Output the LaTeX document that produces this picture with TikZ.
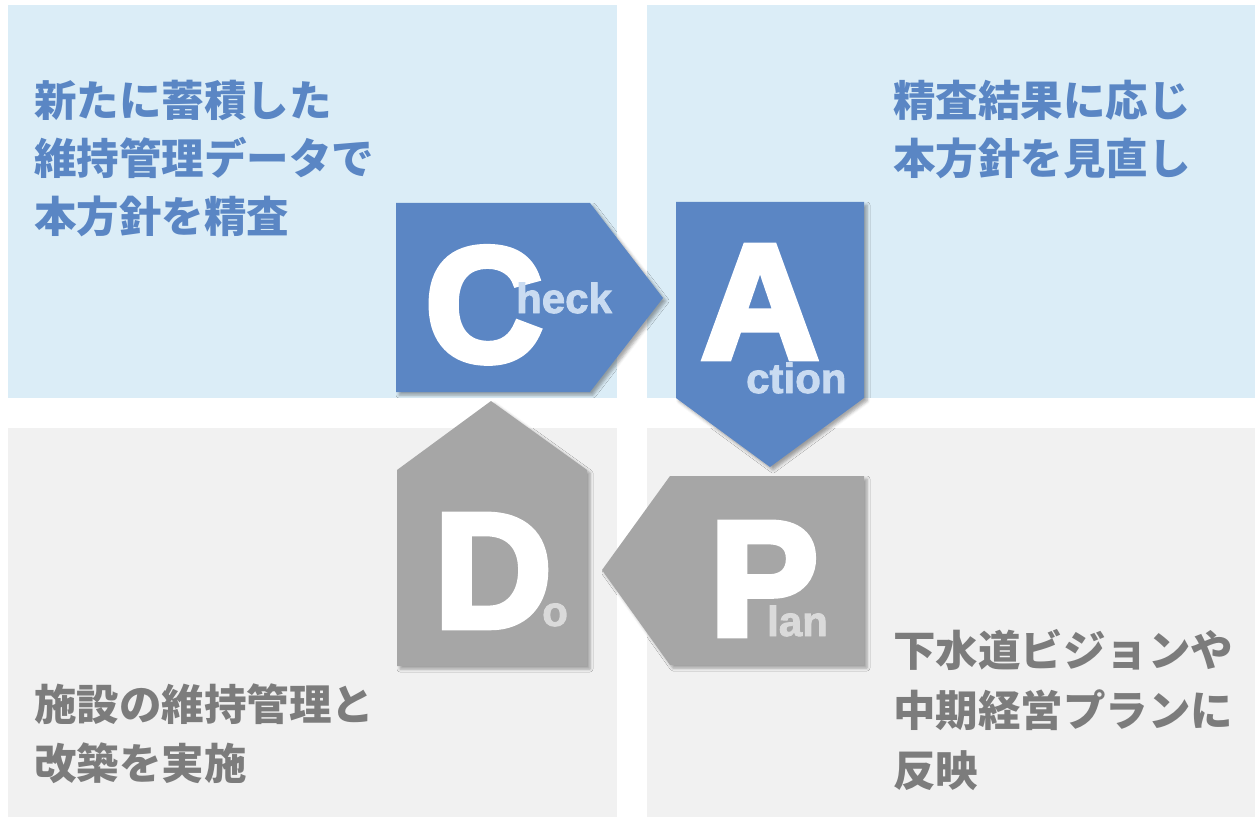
\documentclass[tikz,border=0pt]{standalone}
\usepackage{fontspec}
\setmainfont{Liberation Sans}
\newfontfamily\jpfont{Noto Sans CJK JP}
\newfontfamily\heavyfont[FakeBold=4]{Liberation Sans Bold}
\newfontfamily\wordfont[FakeBold=2]{Liberation Sans Bold}
\usetikzlibrary{shadows.blur}
\definecolor{pdcablue}{HTML}{5B86C4}
\definecolor{pdcagray}{HTML}{A6A6A6}
\definecolor{bgblue}{HTML}{DBEDF7}
\definecolor{bggray}{HTML}{F1F1F1}
\definecolor{txtblue}{HTML}{5A86C4}
\definecolor{txtgray}{HTML}{7C7C7C}
\definecolor{wordblue}{HTML}{C9DBF1}
\definecolor{wordgray}{HTML}{DADADA}
\newcommand\bigletter[3]{%
\node[bigletter] (#1) at (#2) {#3};
}

\begin{document}
\begin{tikzpicture}[x=1pt,y=-1pt,
  soft shadow/.style={blur shadow={shadow xshift=3pt,shadow yshift=-3pt,shadow blur radius=3pt,shadow opacity=35}},
  bluebox/.style={fill=pdcablue,soft shadow},
  graybox/.style={fill=pdcagray,soft shadow},
  bigletter/.style={text=white,inner sep=0,anchor=base,font=\heavyfont\fontsize{163}{163}\selectfont},
  smallword/.style={inner sep=0,anchor=base west,font=\wordfont\fontsize{42}{42}\selectfont},
  bluetext/.style={text=txtblue,inner sep=0,anchor=base west,font=\jpfont\bfseries\fontsize{42.5}{58}\selectfont},
  graytext/.style={text=txtgray,inner sep=0,anchor=base west,font=\jpfont\bfseries\fontsize{42.5}{58}\selectfont}]
	%% page size
	\useasboundingbox (0,0) rectangle (1255,818);

	%% the four fields
	\fill[bgblue] (8,5) rectangle (617,398);
	\fill[bgblue] (647,5) rectangle (1255,398);
	\fill[bggray] (8,428) rectangle (617,817);
	\fill[bggray] (647,428) rectangle (1255,817);

	%% arrows of the cycle
	\fill[bluebox] (396,203) -- (590,203) -- (663,298) -- (590,392) -- (396,392) -- cycle; % check
	\fill[bluebox] (676,202) -- (864,202) -- (864,398) -- (770,467) -- (676,398) -- cycle; % action
	\fill[graybox] (864,476) -- (670,476) -- (602,570) -- (670,665) -- (864,665) -- cycle; % plan
	\fill[graybox] (397,666) -- (397,470) -- (491,401) -- (587,470) -- (587,666) -- cycle; % do

	\bigletter{C}{484,361}{C}
	\bigletter{A}{760,358}{A}
	\bigletter{D}{493,627}{D}
	\bigletter{P}{764,635}{P}

	\node[smallword,text=wordblue] (heck) at (516,313) {heck};
	\node[smallword,text=wordblue] (ction) at (746,393) {ction};
	\node[smallword,text=wordgray] (o) at (542,626) {o};
	\node[smallword,text=wordgray] (lan) at (767,636) {lan};

	%% texts
	\foreach \txt [count=\i] in {新たに蓄積した,維持管理データで,本方針を精査}
		\node[bluetext] (check\i) at (34,{117+58*(\i-1)}) {\txt};
	\foreach \txt [count=\i] in {精査結果に応じ,本方針を見直し}
		\node[bluetext] (act\i) at (893,{117+58*(\i-1)}) {\txt};
	\foreach \txt [count=\i] in {施設の維持管理と,改築を実施}
		\node[graytext] (do\i) at (34,{720+59*(\i-1)}) {\txt};
	\foreach \txt [count=\i] in {下水道ビジョンや,中期経営プランに,反映}
		\node[graytext] (plan\i) at (893,{666+60*(\i-1)}) {\txt};
\end{tikzpicture}
\end{document}
